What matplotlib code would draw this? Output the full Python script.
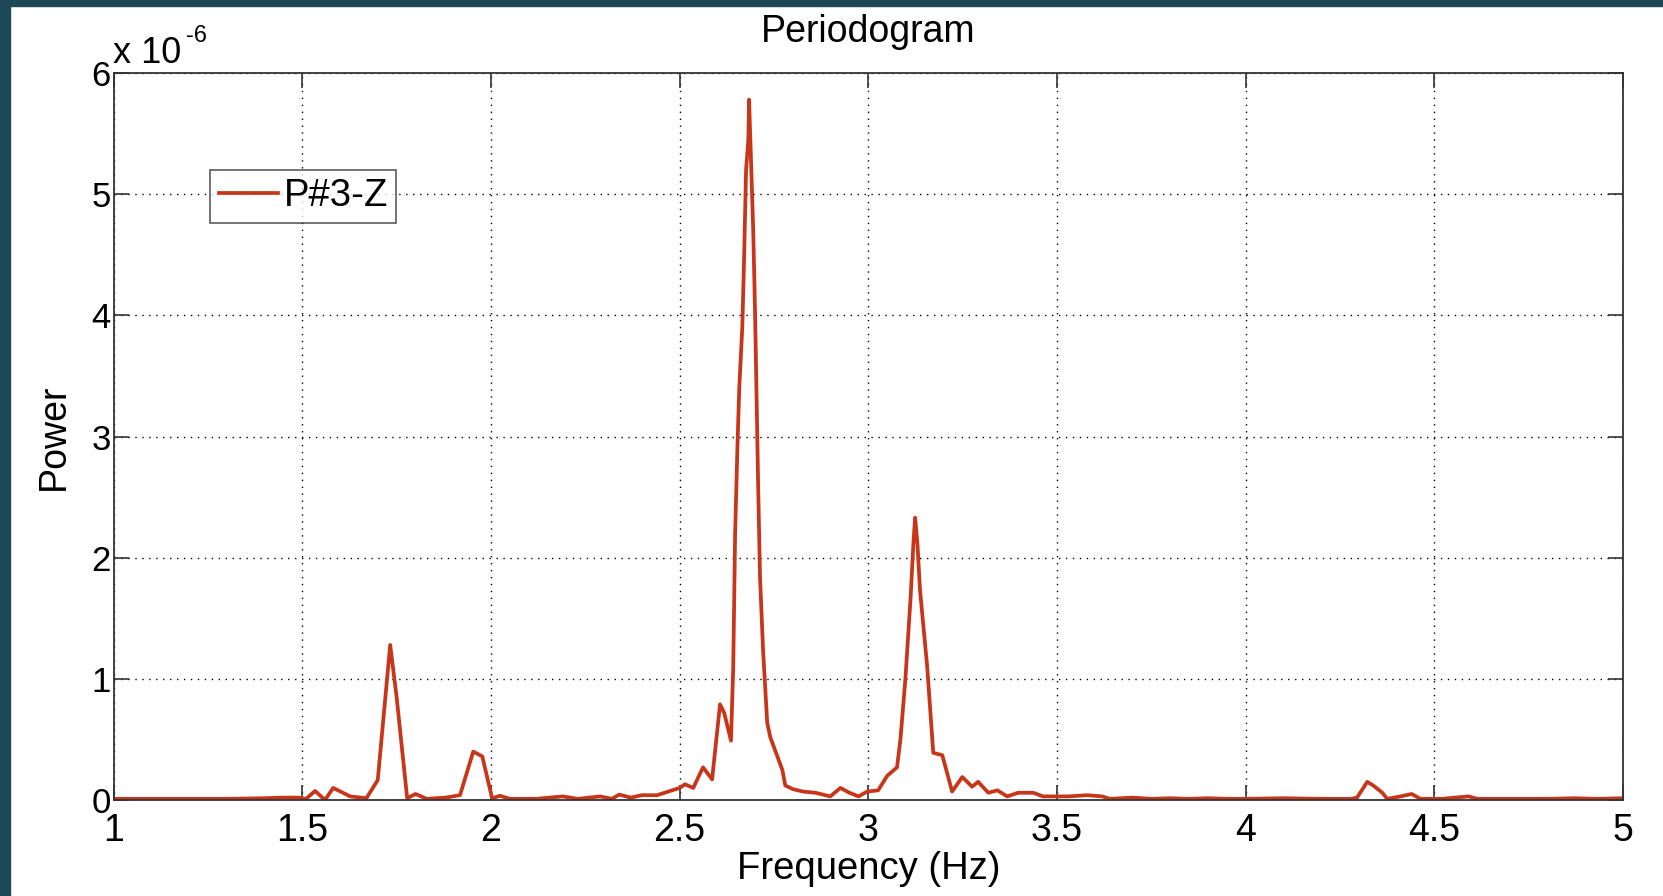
import matplotlib
matplotlib.use("Agg")
import matplotlib.pyplot as plt
from matplotlib.patches import Rectangle

plt.rcParams['font.family'] = ['Liberation Sans', 'DejaVu Sans']

# frequency (Hz) and power (x 1e-6)
freq = [1.00, 1.10, 1.20, 1.30, 1.40, 1.45, 1.49, 1.51, 1.534, 1.56, 1.582,
        1.627, 1.67, 1.70, 1.733, 1.75, 1.778, 1.80, 1.83, 1.88, 1.918,
        1.953, 1.977, 2.003, 2.024, 2.05, 2.12, 2.19, 2.23, 2.29, 2.32,
        2.34, 2.37, 2.40, 2.44, 2.47, 2.49, 2.50, 2.514, 2.536, 2.562,
        2.586, 2.607, 2.618, 2.636, 2.642, 2.647, 2.653, 2.658, 2.666,
        2.671, 2.676, 2.682, 2.684, 2.690, 2.695, 2.700, 2.705, 2.708,
        2.713, 2.721, 2.732, 2.740, 2.753, 2.772, 2.780, 2.80, 2.827,
        2.86, 2.899, 2.926, 2.95, 2.974, 2.997, 3.026, 3.05, 3.076, 3.085,
        3.098, 3.112, 3.12, 3.124, 3.13, 3.137, 3.156, 3.172, 3.196,
        3.222, 3.249, 3.275, 3.291, 3.318, 3.342, 3.368, 3.397, 3.437,
        3.463, 3.50, 3.53, 3.58, 3.62, 3.64, 3.70, 3.75, 3.80, 3.85,
        3.90, 3.95, 4.00, 4.10, 4.20, 4.28, 4.295, 4.322, 4.338, 4.362,
        4.375, 4.41, 4.44, 4.463, 4.52, 4.59, 4.614, 4.70, 4.80, 4.87,
        4.93, 5.00]
power = [0.01, 0.01, 0.01, 0.01, 0.015, 0.02, 0.02, 0.01, 0.075, 0.0, 0.10,
         0.03, 0.015, 0.165, 1.28, 0.85, 0.015, 0.05, 0.01, 0.02, 0.04,
         0.40, 0.36, 0.015, 0.035, 0.01, 0.01, 0.03, 0.01, 0.03, 0.01,
         0.045, 0.02, 0.04, 0.04, 0.07, 0.09, 0.10, 0.13, 0.10, 0.27,
         0.17, 0.79, 0.72, 0.49, 1.10, 2.20, 2.90, 3.40, 3.90,
         4.50, 5.20, 5.45, 5.78, 5.20, 4.70, 4.00, 3.10, 2.60,
         1.84, 1.24, 0.64, 0.52, 0.41, 0.25, 0.12, 0.09, 0.07,
         0.06, 0.03, 0.10, 0.06, 0.03, 0.07, 0.08, 0.20, 0.27, 0.50,
         0.99, 1.67, 2.15, 2.33, 2.12, 1.73, 1.10, 0.39, 0.37,
         0.07, 0.19, 0.11, 0.15, 0.06, 0.08, 0.03, 0.06, 0.06,
         0.03, 0.03, 0.03, 0.04, 0.03, 0.01, 0.02, 0.01, 0.015, 0.01,
         0.015, 0.01, 0.01, 0.015, 0.01, 0.01, 0.02, 0.15, 0.12, 0.06,
         0.01, 0.03, 0.05, 0.01, 0.01, 0.03, 0.01, 0.01, 0.01, 0.015,
         0.01, 0.015]

xticks = [1, 1.5, 2, 2.5, 3, 3.5, 4, 4.5, 5]
xlabels = ['1', '1.5', '2', '2.5', '3', '3.5', '4', '4.5', '5']
yticks = [0, 1, 2, 3, 4, 5, 6]

fig = plt.figure(figsize=(16.63, 8.96), dpi=100)
ax = fig.add_axes([0.0683, 0.1071, 0.9077, 0.8114])

# dark slide border on top and left
fig.patches.append(Rectangle((0, 1 - 6 / 896), 1, 6 / 896, transform=fig.transFigure,
                             color='#1d4856', zorder=0))
fig.patches.append(Rectangle((0, 0), 10 / 1663, 1, transform=fig.transFigure,
                             color='#1d4a58', zorder=0))

ax.plot(freq, power, color='#c8361a', linewidth=2.7, label='P#3-Z')

ax.set_xlim(1, 5)
ax.set_ylim(0, 6)
ax.set_xticks(xticks)
ax.set_xticklabels(xlabels)
ax.set_yticks(yticks)
ax.tick_params(direction='in', length=11, width=1.2, top=True, right=True,
               colors='#333333', labelcolor='black')
ax.tick_params(axis='x', labelsize=27, pad=9)
ax.tick_params(axis='y', labelsize=25, pad=2)
ax.grid(True, color='black', linestyle=(0, (1, 4)), linewidth=1.0)
for s in ax.spines.values():
    s.set_color('#333333')
    s.set_linewidth(1.3)

ax.set_title('Periodogram', fontsize=27, pad=22)
ax.set_xlabel('Frequency (Hz)', fontsize=27.5, labelpad=2)
ax.set_ylabel('Power', fontsize=27, labelpad=14)

fig.text(113 / 1663, 1 - 63 / 896, 'x 10', fontsize=26, va='baseline', ha='left')
fig.text(186 / 1663, 1 - 42 / 896, '-6', fontsize=17, va='baseline', ha='left')

leg = ax.legend(loc='upper left', bbox_to_anchor=(0.064, 0.867), fontsize=27.5,
                frameon=True, fancybox=False, borderpad=0.22, handlelength=1.55,
                handletextpad=0.15, borderaxespad=0)
leg.get_frame().set_edgecolor('#333333')
leg.get_frame().set_linewidth(1.2)

fig.savefig('out.png', dpi=100)
